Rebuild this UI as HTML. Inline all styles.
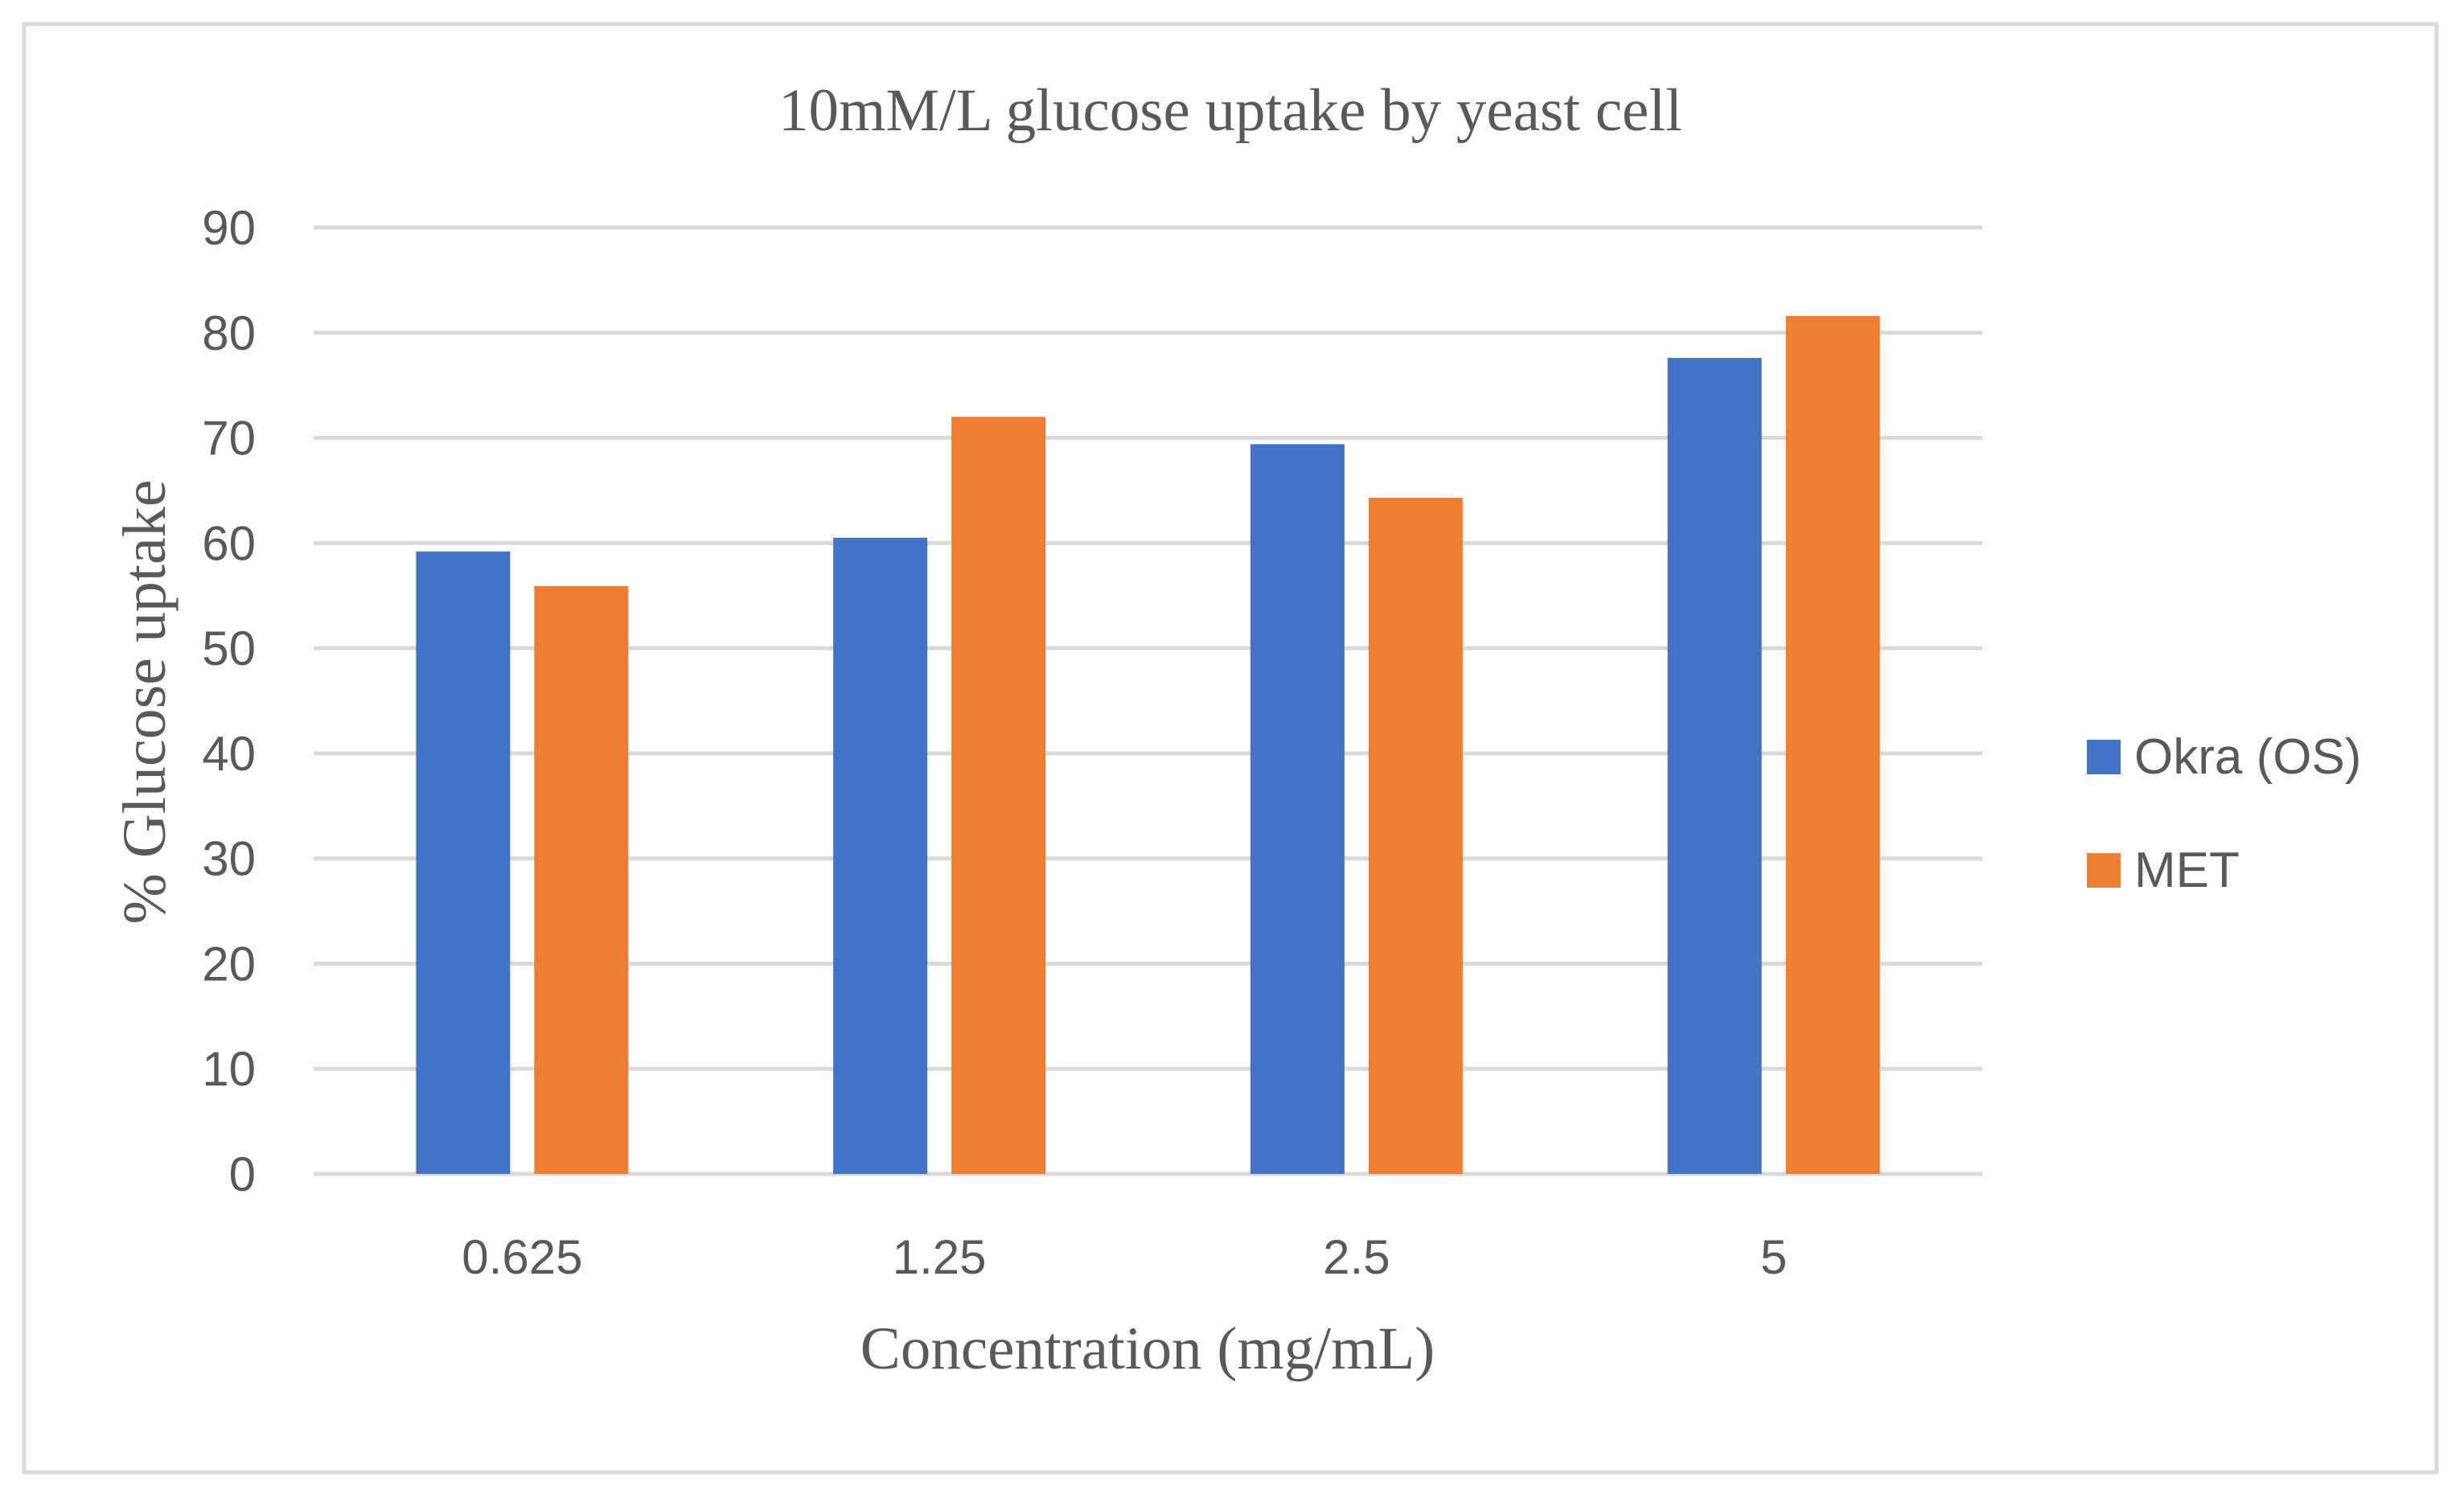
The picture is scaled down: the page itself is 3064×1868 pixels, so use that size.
<!DOCTYPE html>
<html><head><meta charset="utf-8"><style>
html,body{margin:0;padding:0;background:#fff;}
svg{display:block;}
.sans{font-family:"Liberation Sans",sans-serif;fill:#595959;}
.serif{font-family:"Liberation Serif",serif;fill:#595959;}
</style></head><body>
<svg id="chart" width="3064" height="1868" viewBox="0 0 3064 1868" xmlns="http://www.w3.org/2000/svg">
<rect x="30" y="30" width="3000" height="1801" fill="#fff" stroke="#d9d9d9" stroke-width="5"/>
<text class="serif" x="1530" y="162" font-size="75" text-anchor="middle">10mM/L glucose uptake by yeast cell</text>
<g id="grid"></g>
<g id="yticks"></g>
<g id="bars"></g>
<g id="xticks"></g>
<text class="serif" font-size="76" text-anchor="middle" transform="translate(205,873) rotate(-90)">% Glucose uptake</text>
<text class="serif" x="1427" y="1702" font-size="75" text-anchor="middle">Concentration (mg/mL)</text>
<g>
<rect x="2595" y="920" width="42" height="43" fill="#4472c4"/>
<text class="sans" x="2654" y="962" font-size="62">Okra (OS)</text>
<rect x="2595" y="1061" width="42" height="43" fill="#ed7d31"/>
<text class="sans" x="2654" y="1103" font-size="62">MET</text>
</g>
</svg>
<script>
const categories = ["0.625","1.25","2.5","5"];
const okraValues = [59.2,60.5,69.4,77.6];
const metValues = [55.9,72.0,64.3,81.6];
const yTicks = [0,10,20,30,40,50,60,70,80,90];
const NS="http://www.w3.org/2000/svg";
const L=390,R=2465,T=283,B=1460,YMAX=90;
const y=v=>B-(v/YMAX)*(B-T);
const band=(R-L)/categories.length;
const bw=117,gap=30;
function mk(tag,attrs,parent){const e=document.createElementNS(NS,tag);for(const k in attrs)e.setAttribute(k,attrs[k]);parent.appendChild(e);return e;}
const grid=document.getElementById('grid'),yt=document.getElementById('yticks'),bars=document.getElementById('bars'),xt=document.getElementById('xticks');
yTicks.forEach(t=>{
  const ln=mk('line',{x1:L,x2:R,y1:y(t),y2:y(t),stroke:'#d9d9d9','stroke-width':5},grid);
  
  
  const tx=mk('text',{x:318,y:y(t)+21,'font-size':60,'text-anchor':'end',class:'sans'},yt);
  tx.textContent=t;
  
  
});
categories.forEach((c,i)=>{
  const cx=L+band*(i+0.5);
  const b1=mk('rect',{x:cx-gap/2-bw,y:y(okraValues[i]),width:bw,height:B-y(okraValues[i]),fill:'#4472c4'},bars);
  
  
  const b2=mk('rect',{x:cx+gap/2,y:y(metValues[i]),width:bw,height:B-y(metValues[i]),fill:'#ed7d31'},bars);
  
  
  const tx=mk('text',{x:cx,y:1584,'font-size':60,'text-anchor':'middle',class:'sans'},xt);
  tx.textContent=c;
  
  
});
</script>
</body></html>
